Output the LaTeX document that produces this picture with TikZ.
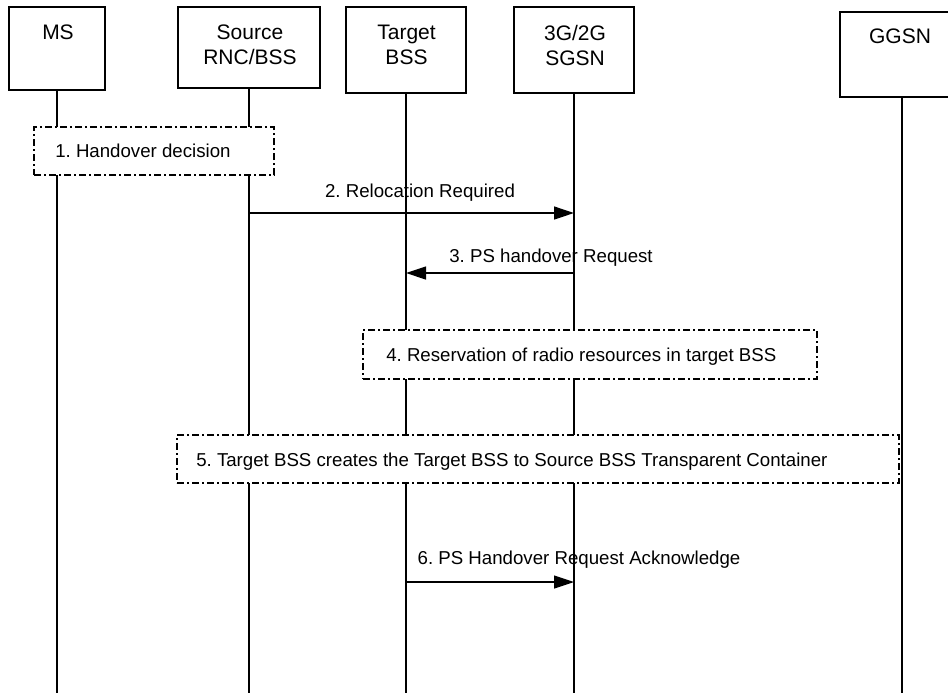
\documentclass[tikz,border=0pt]{standalone}
\usepackage{fontspec}
\setmainfont{Liberation Sans}
\usetikzlibrary{arrows.meta}
\frenchspacing
\begin{document}
\begin{tikzpicture}[x=0.75pt,y=-0.75pt,
  actor/.style={draw, line width=0.95pt, inner sep=0pt, outer sep=0pt, anchor=north west},
  albl/.style={font=\fontsize{15.75}{18.75}\selectfont, align=center, anchor=north, inner sep=0pt},
  life/.style={line width=0.95pt},
  msg/.style={line width=0.95pt, -{Triangle[length=15pt,width=9.75pt]}},
  mlbl/.style={font=\fontsize{14}{16.8}\selectfont, anchor=base, inner sep=0pt},
  actbox/.style={draw, fill=white, line width=0.95pt, dash pattern=on 5.25pt off 2.25pt on 1.5pt off 2.25pt, inner sep=0pt, outer sep=0pt, anchor=north west},
]
\useasboundingbox (0,0) rectangle (948,693);
\clip (0,0) rectangle (948,693);
\coordinate (bot) at (0,693);
% actors
\node[actor, minimum width=72pt, minimum height=62.25pt] (ms) at (9,7) {};
\node[actor, minimum width=106.5pt, minimum height=60.75pt] (src) at (178,7) {};
\node[actor, minimum width=90pt, minimum height=64.5pt] (tgt) at (346,7) {};
\node[actor, minimum width=90pt, minimum height=64.5pt] (sgsn) at (514,7) {};
\node[actor, minimum width=93pt, minimum height=63.75pt] (ggsn) at (840,12) {};
\node[albl] (msL) at (58,24.6) {MS};
\node[albl] (srcL) at (250,24.6) {Source\\RNC/BSS};
\node[albl] (tgtL) at (406.5,24.6) {Target\\BSS};
\node[albl] (sgsnL) at (575,24.6) {3G/2G\\SGSN};
\node[albl] (ggsnL) at (900,28.2) {GGSN};
% lifelines
\draw[life] (ms.south) -- (ms.south |- bot);
\draw[life] (src.south) -- (src.south |- bot);
\draw[life] (tgt.south) -- (tgt.south |- bot);
\draw[life] (sgsn.south) -- (sgsn.south |- bot);
\draw[life] (ggsn.south) -- (ggsn.south |- bot);
% messages
\coordinate (y2) at (0,213);
\coordinate (y3) at (0,273);
\coordinate (y6) at (0,582);
\draw[msg] (src.south |- y2) -- (sgsn.south |- y2);
\node[mlbl] (l2) at (420,197) {2. Relocation Required};
\draw[msg] (sgsn.south |- y3) -- (tgt.south |- y3);
\node[mlbl] (l3) at (551,262) {3. PS handover Request};
\draw[msg] (tgt.south |- y6) -- (sgsn.south |- y6);
\node[mlbl] (l6) at (579,564) {6. PS Handover Request Acknowledge};
% action boxes
\node[actbox, minimum width=180pt, minimum height=36pt] (b1) at (34,127) {};
\node[mlbl, anchor=base west] (t1) at (55,157) {1. Handover decision};
\node[actbox, minimum width=340.5pt, minimum height=36.75pt] (b4) at (363,330) {};
\node[mlbl, anchor=base west] (t4) at (386,361) {4. Reservation of radio resources in target BSS};
\node[actbox, minimum width=541.5pt, minimum height=36pt] (b5) at (177,435) {};
\node[mlbl, anchor=base west] (t5) at (196,466) {5. Target BSS creates the Target BSS to Source BSS Transparent Container};
\end{tikzpicture}
\end{document}
